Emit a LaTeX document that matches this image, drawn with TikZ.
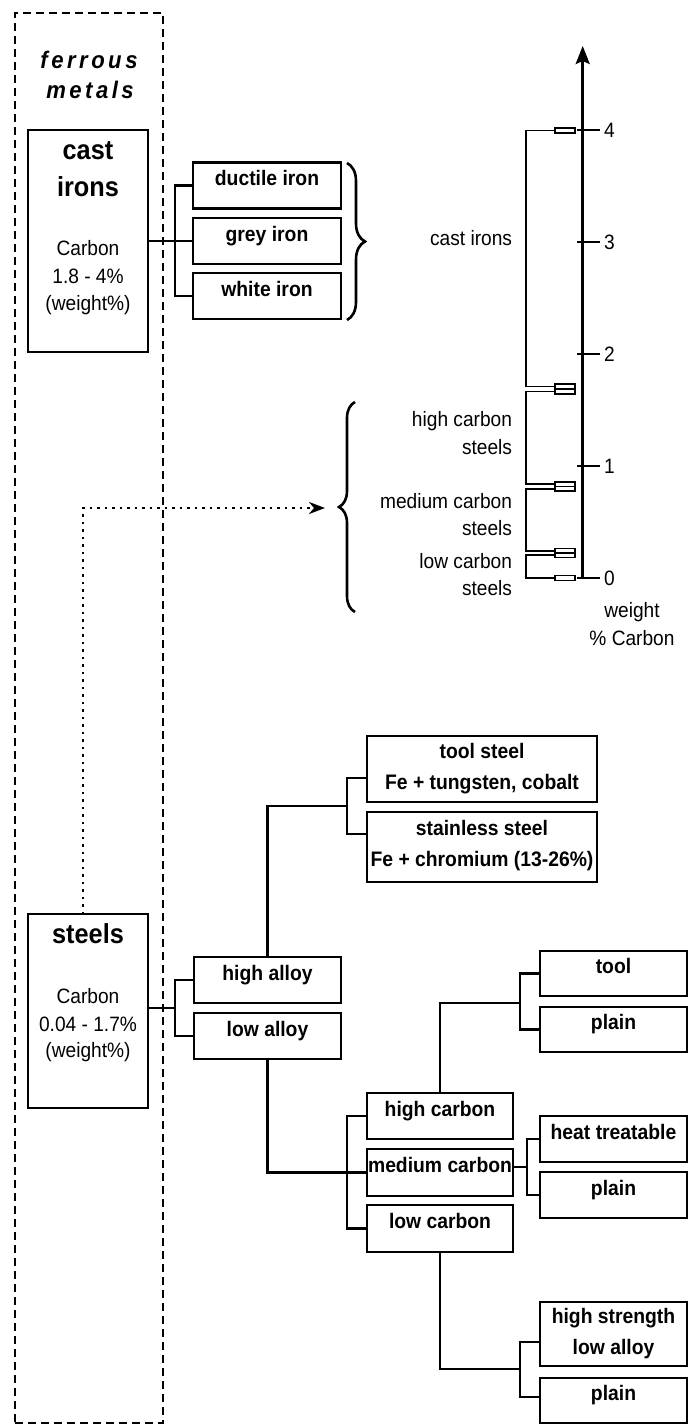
\documentclass[tikz,border=0pt]{standalone}
\usepackage{fontspec}
\setmainfont{Liberation Sans}[FakeStretch=0.92]
\usetikzlibrary{arrows.meta,decorations.pathreplacing,calc}

% extra space between letters of the group heading
\newcommand\tr{\hspace{3.5pt}}

\begin{document}
\begin{tikzpicture}[x=1pt,y=-1pt,
  every node/.style={inner sep=0pt, outer sep=0pt},
  reg/.style={font=\fontsize{20.8}{28}\selectfont},
  bld/.style={font=\fontsize{21}{31}\selectfont\bfseries},
  big/.style={font=\fontsize{27.5}{36}\selectfont\bfseries},
  heading/.style={font=\fontsize{24}{30}\selectfont\bfseries\itshape},
  boxbase/.style={draw, line width=2.3pt, bld, align=center},
  box/.style={boxbase, text height=8pt, text depth=8pt},
  bigbox/.style={draw, line width=2.8pt},
  groupbox/.style={draw, line width=2.8pt, dash pattern=on 8pt off 5pt},
  conn/.style={line width=2.2pt},
  dotline/.style={line width=2.5pt, dash pattern=on 2.5pt off 5pt},
  brk/.style={line width=1.8pt},
  bar/.style={draw, fill=white, line width=1.8pt},
  tick/.style={line width=2.4pt},
  bracedeco/.style={line width=2.6pt, decorate, decoration={brace, amplitude=#1}},
]
\useasboundingbox (0,0) rectangle (690,1427);

% ---------- ferrous metals group ----------
\node[groupbox, minimum width=148pt, minimum height=1410pt] (group) at (89,718) {};
\node[heading, anchor=base] (fer1) at (89,68) {f\tr e\tr r\tr r\tr o\tr u\tr s};
\node[heading, anchor=base] (fer2) at (90,98) {m\tr e\tr t\tr a\tr l\tr s};

% cast irons
\node[bigbox, minimum width=120pt, minimum height=222pt] (cast) at (88,241) {};
\node[big, anchor=base] (castA) at (88,159) {cast};
\node[big, anchor=base] (castB) at (88,196) {irons};
\node[reg, anchor=base] (castC) at (88,255) {Carbon};
\node[reg, anchor=base] (castD) at (88,283) {1.8 - 4\%};
\node[reg, anchor=base] (castE) at (88,310) {(weight\%)};

% steels
\node[bigbox, minimum width=120pt, minimum height=194pt] (steels) at (88,1011) {};
\node[big, anchor=base] (steelsA) at (88,943) {steels};
\node[reg, anchor=base] (steelsC) at (88,1003) {Carbon};
\node[reg, anchor=base] (steelsD) at (88,1031) {0.04 - 1.7\%};
\node[reg, anchor=base] (steelsE) at (88,1057) {(weight\%)};

% ---------- cast iron kinds ----------
\node[box, minimum width=148pt, minimum height=46pt] (ductile) at (267,185.5) {ductile iron};
\node[box, minimum width=148pt, minimum height=46pt] (grey) at (267,241) {grey iron};
\node[box, minimum width=148pt, minimum height=46pt] (white) at (267,296) {white iron};
\draw[conn] (cast.east) -- (grey.west);
\draw[conn] (ductile.west) -- ++(-18,0) |- (white.west);
\draw[bracedeco=18pt] (347,163) -- (347,320);

% ---------- carbon scale ----------
\coordinate (ax0) at (582.7,578);
\coordinate (axtop) at (582.7,46);
\draw[line width=2.6pt, -{Stealth[length=18pt,width=14pt,inset=3pt]}] (ax0) -- (axtop);
\foreach \k in {0,...,4}{
  \draw[tick] (577,{578-112*\k}) -- (600,{578-112*\k});
  \node[reg, anchor=west] (num\k) at (604,{578-112*\k}) {\k};
}
\node[reg, anchor=base] (axlabA) at (632,617) {weight};
\node[reg, anchor=base] (axlabB) at (632,645) {\% Carbon};

% ranges
\draw[brk] (555,130.5) -- (526,130.5) -- (526,386.5) -- (555,386.5);
\draw[brk] (555,391.5) -- (526,391.5) -- (526,484) -- (555,484);
\draw[brk] (555,489) -- (526,489) -- (526,551) -- (555,551);
\draw[brk] (555,555) -- (526,555) -- (526,578) -- (555,578);
\draw[bar] (555,128) rectangle (575,133);
\draw[bar] (555,384) rectangle (575,394);
\draw[line width=1.6pt] (555,389) -- (575,389);
\draw[bar] (555,482) rectangle (575,491);
\draw[line width=1.6pt] (555,486.5) -- (575,486.5);
\draw[bar] (555,548.5) rectangle (575,557.5);
\draw[line width=1.6pt] (555,553) -- (575,553);
\draw[bar] (555,575.5) rectangle (575,580.5);

\node[reg, anchor=base east] (rcast) at (512,245) {cast irons};
\node[reg, anchor=base east] (rhighA) at (512,426) {high carbon};
\node[reg, anchor=base east] (rhighB) at (512,454) {steels};
\node[reg, anchor=base east] (rmedA) at (512,508) {medium carbon};
\node[reg, anchor=base east] (rmedB) at (512,535) {steels};
\node[reg, anchor=base east] (rlowA) at (512,568) {low carbon};
\node[reg, anchor=base east] (rlowB) at (512,595) {steels};
\draw[bracedeco=16pt] (355,612) -- (355,402);

% link from steels to the steel ranges
\coordinate (bracetip) at (325,508);
\draw[dotline, -{Stealth[length=16pt,width=12pt,inset=5pt]}] ([xshift=-5pt]steels.north) |- (bracetip);

% ---------- steel kinds ----------
\node[box, minimum width=147pt, minimum height=46pt] (highalloy) at (267.5,980) {high alloy};
\node[box, minimum width=147pt, minimum height=46pt] (lowalloy) at (267.5,1036) {low alloy};
\coordinate (sj) at (175,1008);
\draw[conn] (steels.east |- sj) -- (sj);
\draw[conn] (highalloy.west) -- ++(-19,0) |- (lowalloy.west);

\node[boxbase, minimum width=230pt, minimum height=66pt] (toolsteel) at (482,769) {tool steel\\Fe + tungsten, cobalt};
\node[boxbase, minimum width=230pt, minimum height=70pt, text depth=7pt] (stainless) at (482,847) {stainless steel\\Fe + chromium (13-26\%)};
\coordinate (haj) at (347,806);
\draw[conn] (highalloy.north) |- (haj);
\draw[conn] ([yshift=-9pt]toolsteel.west) -- ++(-20,0) |- ([yshift=13pt]stainless.west);

\node[box, minimum width=146pt, minimum height=46pt] (highcarbon) at (440,1116) {high carbon};
\node[box, minimum width=146pt, minimum height=47pt] (medium) at (440,1172.5) {medium carbon};
\node[box, minimum width=146pt, minimum height=47pt] (lowcarbon) at (440,1228.5) {low carbon};
\draw[conn] (lowalloy.south) |- (medium.west);
\draw[conn] (highcarbon.west) -- ++(-20,0) |- (lowcarbon.west);

\node[box, minimum width=147pt, minimum height=45pt] (tool) at (613.5,973.5) {tool};
\node[box, minimum width=147pt, minimum height=45pt] (plainA) at (613.5,1029.5) {plain};
\coordinate (hcj) at (520,1003);
\draw[conn] (highcarbon.north) |- (hcj);
\draw[conn] (tool.west) -- ++(-20,0) |- (plainA.west);

\node[box, minimum width=147pt, minimum height=46pt] (heat) at (613.5,1139) {heat treatable};
\node[box, minimum width=147pt, minimum height=46pt] (plainB) at (613.5,1195) {plain};
\coordinate (mcj) at (527,1167);
\draw[conn] (medium.east |- mcj) -- (mcj);
\draw[conn] (heat.west) -- ++(-13,0) |- (plainB.west);

\node[boxbase, minimum width=147pt, minimum height=64pt] (hsla) at (613.5,1334) {high strength\\low alloy};
\node[box, minimum width=147pt, minimum height=45pt] (plainC) at (613.5,1400.5) {plain};
\coordinate (lcj) at (520,1369);
\draw[conn] (lowcarbon.south) |- (lcj);
\draw[conn] ([yshift=-8pt]hsla.west) -- ++(-20,0) |- ([yshift=3.5pt]plainC.west);
\end{tikzpicture}
\end{document}
